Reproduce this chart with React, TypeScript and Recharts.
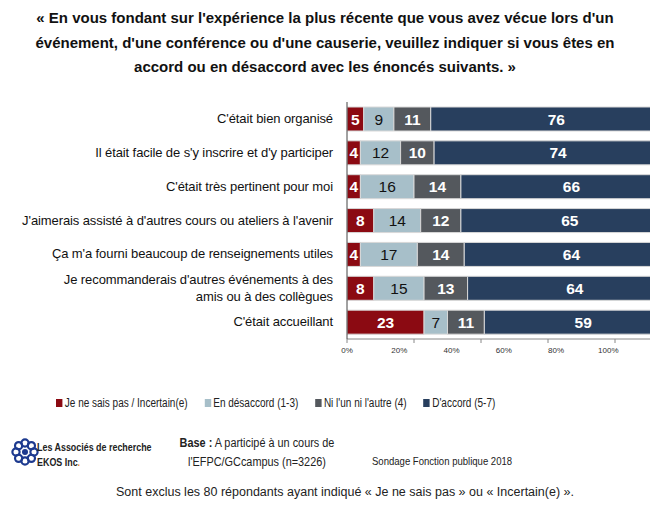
import React from "react";
import { Bar, BarChart, LabelList, Legend, XAxis, YAxis } from "recharts";

const categories = [
  "C'était bien organisé",
  "Il était facile de s'y inscrire et d'y participer",
  "C'était très pertinent pour moi",
  "J'aimerais assisté à d'autres cours ou ateliers à l'avenir",
  "Ça m'a fourni beaucoup de renseignements utiles",
  "Je recommanderais d'autres événements à des\namis ou à des collègues",
  "C'était accueillant",
];
const nspValues = [5, 4, 4, 8, 4, 8, 23];
const desaccordValues = [9, 12, 16, 14, 17, 15, 7];
const neutreValues = [11, 10, 14, 12, 14, 13, 11];
const accordValues = [76, 74, 66, 65, 64, 64, 59];
const xTicks = [0, 20, 40, 60, 80, 100];

const seriesNames = [
  "Je ne sais pas / Incertain(e)",
  "En désaccord (1-3)",
  "Ni l'un ni l'autre (4)",
  "D'accord (5-7)",
];
const colors = ["#8b0a12", "#a7bfc9", "#54585d", "#283f5e"];
const labelColors = ["#fff", "#111", "#fff", "#fff"];

const rows = categories.map((name, i) => ({
  name,
  nsp: nspValues[i],
  desaccord: desaccordValues[i],
  neutre: neutreValues[i],
  accord: accordValues[i],
}));
const keys = ["nsp", "desaccord", "neutre", "accord"];

const font = "'Liberation Sans', Arial, sans-serif";
const plotLeft = 347;

function CategoryTick(props: any) {
  const { x, y, payload } = props;
  const lines = String(payload.value).split("\n");
  const start = -((lines.length - 1) * 17) / 2;
  return (
    <text
      x={x}
      y={y}
      textAnchor="end"
      fontFamily={font}
      fontSize={13}
      letterSpacing={-0.1}
      fill="#111"
    >
      {lines.map((l, i) => (
        <tspan key={i} x={x} dy={i === 0 ? start + 4 : 17}>
          {l}
        </tspan>
      ))}
    </text>
  );
}

// Excel squeezes the percentage labels towards the axis origin
function PercentTick(props: any) {
  const { x, y, payload } = props;
  const lx = plotLeft + (x - plotLeft) * 0.78;
  return (
    <text
      x={lx}
      y={y + 8}
      textAnchor="middle"
      fontFamily={font}
      fontSize={8}
      fill="#333"
    >
      {payload.value}%
    </text>
  );
}

// the original uses a narrow face; squeeze horizontally
function Narrow({ scale, origin = "left", children, style }: any) {
  return (
    <div
      style={{
        ...style,
        position: "absolute",
        whiteSpace: "nowrap",
        transform: `scaleX(${scale})`,
        transformOrigin: origin,
      }}
    >
      {children}
    </div>
  );
}

function LegendContent() {
  return (
    <Narrow scale={0.8} style={{ left: 0, top: 0 }}>
      <div
        style={{
          display: "flex",
          gap: 21,
          fontFamily: font,
          fontSize: 12.5,
          color: "#222",
        }}
      >
        {seriesNames.map((n, i) => (
          <span key={n} style={{ display: "flex", alignItems: "center" }}>
            <span
              style={{
                display: "inline-block",
                width: 8,
                height: 8,
                background: colors[i],
                marginRight: 3,
              }}
            />
            {n}
          </span>
        ))}
      </div>
    </Narrow>
  );
}

function Logo() {
  const dots = Array.from({ length: 8 }, (_, i) => i);
  return (
    <svg width={28} height={28} viewBox="-14 -14 28 28">
      {dots.map((i) => {
        const a = (i / 8) * Math.PI * 2;
        return (
          <circle
            key={i}
            cx={Math.cos(a) * 9}
            cy={Math.sin(a) * 9}
            r={3.6}
            fill="none"
            stroke="#1d3a8f"
            strokeWidth={2.2}
          />
        );
      })}
      <circle r={3} fill="#1d3a8f" />
    </svg>
  );
}

export default function App() {
  return (
    <div
      style={{
        position: "absolute",
        left: 0,
        top: 0,
        width: 650,
        height: 510,
        overflow: "hidden",
        background: "#fff",
        fontFamily: font,
      }}
    >
      <div
        style={{
          position: "absolute",
          top: 6,
          left: 0,
          width: 650,
          textAlign: "center",
          fontWeight: "bold",
          fontSize: 15,
          lineHeight: "24.5px",
          color: "#111",
        }}
      >
        « En vous fondant sur l'expérience la plus récente que vous avez vécue lors d'un
        <br />
        événement, d'une conférence ou d'une causerie, veuillez indiquer si vous êtes en
        <br />
        accord ou en désaccord avec les énoncés suivants. »
      </div>

      <div style={{ position: "absolute", left: 0, top: 0 }}>
        <BarChart
          layout="vertical"
          width={700}
          height={380}
          data={rows}
          margin={{ top: 102, right: 18, left: 0, bottom: 0 }}
          barSize={24}
        >
          <XAxis
            type="number"
            domain={[0, 100]}
            ticks={xTicks}
            allowDataOverflow
            height={23}
            stroke="#888"
            tickSize={4}
            tick={<PercentTick />}
          />
          <YAxis
            type="category"
            dataKey="name"
            width={plotLeft}
            stroke="#444"
            tickLine={false}
            tickMargin={8}
            tick={<CategoryTick />}
          />
          <Legend
            content={<LegendContent />}
            wrapperStyle={{ position: "absolute", top: 396, left: 56, width: 500, height: 18 }}
          />
          {keys.map((k, i) => (
            <Bar
              key={k}
              dataKey={k}
              name={seriesNames[i]}
              stackId="a"
              fill={colors[i]}
              stroke="#d8d8d8"
              strokeWidth={1}
              isAnimationActive={false}
            >
              <LabelList
                dataKey={k}
                position="center"
                fill={labelColors[i]}
                fontFamily={font}
                fontSize={15.5}
                fontWeight={i === 1 ? "normal" : "bold"}
              />
            </Bar>
          ))}
        </BarChart>
      </div>

      <div style={{ position: "absolute", left: 11, top: 438 }}>
        <Logo />
      </div>
      <Narrow
        scale={0.81}
        style={{
          left: 37,
          top: 440,
          fontSize: 11,
          fontWeight: "bold",
          lineHeight: "15px",
          color: "#222",
        }}
      >
        Les Associés de recherche
        <br />
        EKOS Inc<span style={{ color: "#e8862a" }}>.</span>
      </Narrow>
      <Narrow
        scale={0.87}
        origin="center"
        style={{
          left: 157,
          width: 200,
          top: 434,
          textAlign: "center",
          fontSize: 12.5,
          lineHeight: "19px",
          color: "#222",
        }}
      >
        <b>Base :</b> A participé à un cours de
        <br />
        l'EFPC/GCcampus (n=3226)
      </Narrow>
      <Narrow
        scale={0.83}
        style={{
          left: 372,
          top: 455,
          fontSize: 11.5,
          color: "#222",
        }}
      >
        Sondage Fonction publique 2018
      </Narrow>
      <div
        style={{
          position: "absolute",
          left: 0,
          width: 690,
          top: 485,
          textAlign: "center",
          fontSize: 12.5,
          color: "#222",
        }}
      >
        Sont exclus les 80 répondants ayant indiqué « Je ne sais pas » ou « Incertain(e) ».
      </div>
    </div>
  );
}
